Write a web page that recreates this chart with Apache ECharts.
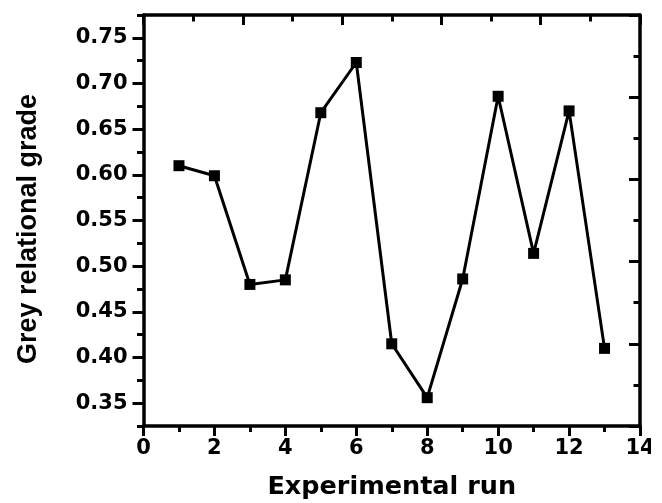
<!DOCTYPE html>
<html>
<head>
<meta charset="utf-8">
<script src="https://cdn.jsdelivr.net/npm/echarts@6/dist/echarts.min.js"></script>
<style>
  html, body { margin: 0; padding: 0; background: #fff; }
  #chart { width: 651px; height: 503px; }
</style>
</head>
<body>
<div id="chart"></div>
<script>
// experimental run vs grey relational grade
var runs = [1, 2, 3, 4, 5, 6, 7, 8, 9, 10, 11, 12, 13];
var grade = [0.610, 0.599, 0.480, 0.485, 0.668, 0.723, 0.415, 0.356, 0.486, 0.686, 0.514, 0.670, 0.410];

var yMajor = [0.35, 0.40, 0.45, 0.50, 0.55, 0.60, 0.65, 0.70, 0.75];
var yMinor = [0.325, 0.375, 0.425, 0.475, 0.525, 0.575, 0.625, 0.675, 0.725, 0.775];

var black = '#000';
var tickFont = { color: black, fontFamily: 'DejaVu Sans', fontWeight: 'bold', fontSize: 21 };

var hh = document.getElementById('chart');
var echart = echarts.init(hh);

var option = {
  animation: false,
  grid: { left: 143.5, right: 11, top: 15, bottom: 77, outerBoundsMode: 'none', containLabel: false },
  xAxis: [
    {
      type: 'value', position: 'bottom', min: 0, max: 14, interval: 2,
      name: 'Experimental run', nameLocation: 'middle', nameGap: 48,
      nameTextStyle: { color: black, fontFamily: 'DejaVu Sans', fontWeight: 'bold', fontSize: 25.5 },
      axisLine: { lineStyle: { color: black, width: 3.5 } },
      axisTick: { inside: false, length: 10, lineStyle: { color: black, width: 3 } },
      minorTick: { show: true, splitNumber: 2, length: 6, lineStyle: { color: black, width: 3 } },
      axisLabel: Object.assign({ margin: 12 }, tickFont),
      splitLine: { show: false }
    },
    {
      // mirror axis on top
      type: 'value', position: 'top', min: 0, max: 10, interval: 2,
      axisLine: { lineStyle: { color: black, width: 3.5 } },
      axisTick: { inside: true, length: 10, lineStyle: { color: black, width: 3 } },
      minorTick: { show: true, splitNumber: 2, length: 6.5, lineStyle: { color: black, width: 3 } },
      axisLabel: { show: false },
      splitLine: { show: false }
    }
  ],
  yAxis: [
    {
      type: 'value', position: 'left', min: 0.325, max: 0.775,
      name: 'Grey relational grade', nameLocation: 'middle', nameGap: 101,
      nameTextStyle: { color: black, fontFamily: 'Liberation Sans', fontWeight: 'bold', fontSize: 27, padding: [0, 17, 0, 0] },
      axisLine: { lineStyle: { color: black, width: 3.5 } },
      axisTick: { inside: false, length: 11, customValues: yMajor, lineStyle: { color: black, width: 3 } },
      axisLabel: Object.assign({ margin: 16, customValues: yMajor, formatter: function (v) { return v.toFixed(2); } }, tickFont),
      splitLine: { show: false }
    },
    {
      // minor ticks on the left
      type: 'value', position: 'left', min: 0.325, max: 0.775,
      axisLine: { show: false },
      axisTick: { inside: false, length: 6.5, customValues: yMinor, lineStyle: { color: black, width: 3 } },
      axisLabel: { show: false },
      splitLine: { show: false }
    },
    {
      // mirror axis on the right
      type: 'value', position: 'right', min: 0, max: 10, interval: 2,
      axisLine: { show: true, lineStyle: { color: black, width: 3.5 } },
      axisTick: { show: true, inside: true, length: 11, lineStyle: { color: black, width: 3 } },
      minorTick: { show: true, splitNumber: 2, length: 6.5, lineStyle: { color: black, width: 3 } },
      axisLabel: { show: false },
      splitLine: { show: false }
    }
  ],
  series: [
    {
      type: 'line',
      xAxisIndex: 0, yAxisIndex: 0,
      data: runs.map(function (r, i) { return [r, grade[i]]; }),
      symbol: 'rect', symbolSize: 11,
      itemStyle: { color: black },
      lineStyle: { color: black, width: 3 }
    }
  ]
};

echart.setOption(option);

window.addEventListener('resize', function() {
    if (echart) {
        echart.resize();
    }
});
</script>
</body>
</html>
